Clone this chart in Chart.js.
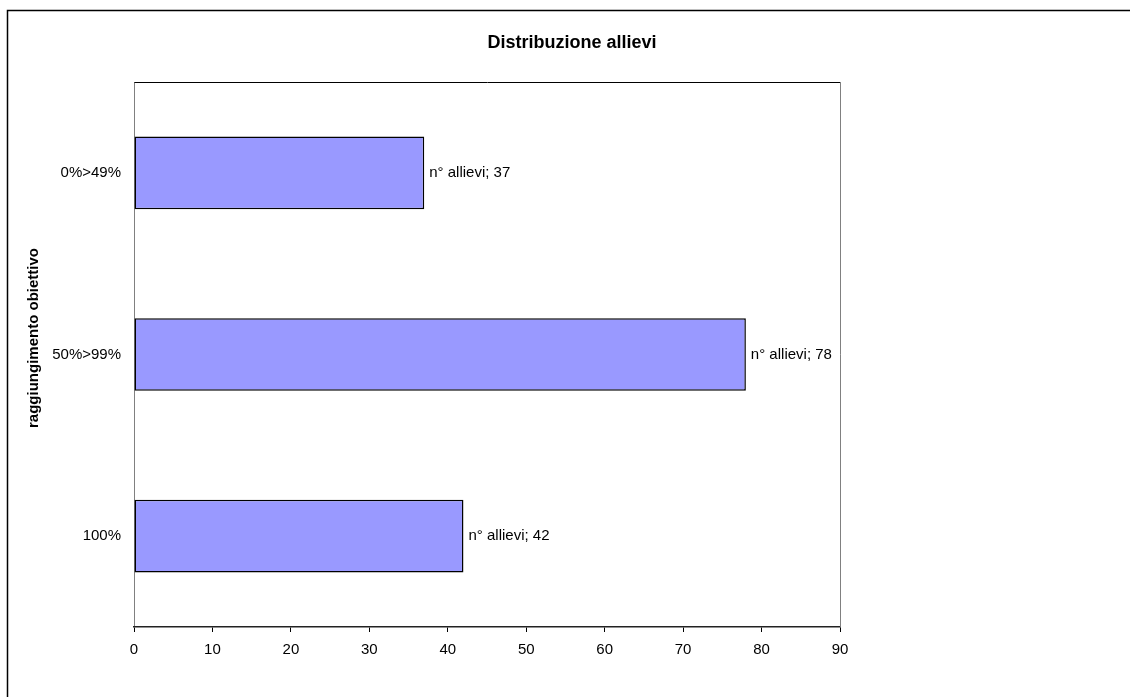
<!DOCTYPE html>
<html>
<head>
<meta charset="utf-8">
<script src="https://cdn.jsdelivr.net/npm/chart.js@4.4.1/dist/chart.umd.min.js"></script>
<style>
  html, body { margin: 0; padding: 0; background: #fff; }
  #wrap { width: 1130px; height: 697px; position: relative; }
</style>
</head>
<body>
<div id="wrap"><canvas id="c" width="1130" height="697"></canvas></div>
<script>
// Categories listed top to bottom
const categories = ['0%>49%', '50%>99%', '100%'];
const allievi = [37, 78, 42];
const seriesName = 'n° allievi';
const chartTitle = 'Distribuzione allievi';
const yAxisTitle = 'raggiungimento obiettivo';
const xMin = 0, xMax = 90, xStep = 10;

const FONT = '"Liberation Sans", Arial, sans-serif';

// Outer frame, plot frame, headings and bar value labels
const decorations = {
  id: 'decorations',
  beforeDraw(chart) {
    const ctx = chart.ctx;
    ctx.save();
    ctx.fillStyle = '#fff';
    ctx.fillRect(0, 0, chart.width, chart.height);
    ctx.strokeStyle = '#000';
    ctx.lineWidth = 1.5;
    ctx.beginPath();
    ctx.moveTo(7.5, chart.height);
    ctx.lineTo(7.5, 10.5);
    ctx.lineTo(chart.width, 10.5);
    ctx.stroke();
    ctx.restore();
  },
  afterDraw(chart) {
    const ctx = chart.ctx;
    const a = chart.chartArea;
    ctx.save();
    // top and right edges of the plot area
    ctx.lineWidth = 1;
    ctx.strokeStyle = '#000';
    ctx.beginPath();
    ctx.moveTo(Math.round(a.left) + 0.5, Math.round(a.top) + 0.5);
    ctx.lineTo(Math.round(a.right) + 0.5, Math.round(a.top) + 0.5);
    ctx.stroke();
    ctx.strokeStyle = '#808080';
    ctx.beginPath();
    ctx.moveTo(Math.round(a.right) + 0.5, Math.round(a.top) + 0.5);
    ctx.lineTo(Math.round(a.right) + 0.5, Math.round(a.bottom));
    ctx.stroke();

    // chart title
    ctx.fillStyle = '#000';
    ctx.font = 'bold 18px ' + FONT;
    ctx.textAlign = 'center';
    ctx.textBaseline = 'middle';
    ctx.fillText(chartTitle, 572, 43);

    // vertical axis title
    ctx.save();
    ctx.translate(34, 338);
    ctx.rotate(-Math.PI / 2);
    ctx.font = 'bold 15px ' + FONT;
    ctx.fillText(yAxisTitle, 0, 0);
    ctx.restore();

    // value labels beside each bar
    const meta = chart.getDatasetMeta(0);
    ctx.font = '15px ' + FONT;
    ctx.textAlign = 'left';
    ctx.textBaseline = 'middle';
    meta.data.forEach((bar, i) => {
      const v = chart.data.datasets[0].data[i];
      ctx.fillText(seriesName + '; ' + v, bar.x + 5, bar.y);
    });
    ctx.restore();
  }
};

new Chart(document.getElementById('c'), {
  type: 'bar',
  data: {
    labels: categories,
    datasets: [{
      label: seriesName,
      data: allievi,
      backgroundColor: '#9999FF',
      borderColor: '#000',
      borderWidth: 1.5,
      borderSkipped: false,
      barPercentage: 0.4,
      categoryPercentage: 1
    }]
  },
  options: {
    indexAxis: 'y',
    responsive: false,
    animation: false,
    layout: { padding: { top: 82, right: 290, bottom: 0, left: 0 } },
    plugins: {
      legend: { display: false },
      title: { display: false },
      tooltip: { enabled: false }
    },
    scales: {
      y: {
        afterFit(scale) { scale.width = 134; },
        grid: { display: true, drawOnChartArea: false, drawTicks: false },
        border: { display: true, color: '#808080', width: 1 },
        ticks: { color: '#000', font: { family: FONT, size: 15 }, padding: 13 }
      },
      x: {
        min: xMin,
        max: xMax,
        afterFit(scale) { scale.height = 70; },
        grid: { drawOnChartArea: false, drawTicks: true, tickLength: 5, color: '#000' },
        border: { display: true, color: '#222', width: 1.5 },
        ticks: { stepSize: xStep, color: '#000', font: { family: FONT, size: 15 }, padding: 9, maxRotation: 0 }
      }
    }
  },
  plugins: [decorations]
});
</script>
</body>
</html>
